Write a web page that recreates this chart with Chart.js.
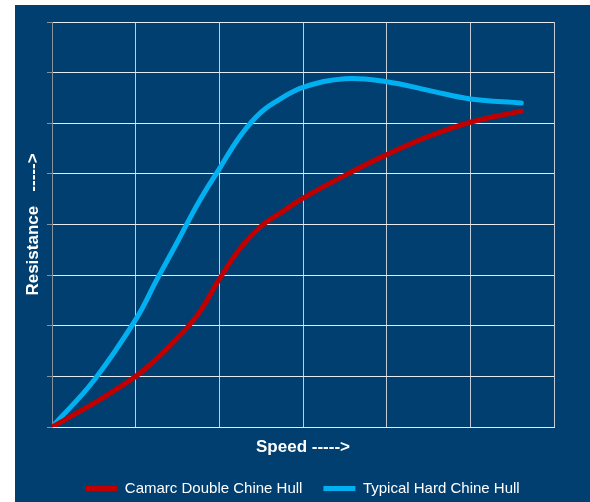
<!DOCTYPE html>
<html>
<head>
<meta charset="utf-8">
<script src="https://cdn.jsdelivr.net/npm/chart.js@4"></script>
<style>
    html, body { margin: 0; padding: 0; background: #ffffff; overflow: hidden; }
    #panel {
        position: absolute; left: 15px; top: 5px;
        width: 575px; height: 497px;
        background: #003f6f; overflow: hidden;
    }
    #hullChart { display: block; }
</style>
</head>
<body>
<div id="panel"><canvas id="hullChart" width="575" height="501"></canvas></div>
<script>
// Speed (x) and resistance (y) in grid units
const speed = [0, 0.5, 1, 1.25, 1.5, 1.75, 2, 2.25, 2.5, 2.75, 3, 3.5, 4, 4.5, 5, 5.61];
const camarcResistance = [0, 0.47, 1.0, 1.35, 1.76, 2.24, 2.92, 3.53, 3.97, 4.25, 4.52, 4.97, 5.38, 5.74, 6.02, 6.24];
const hardChineResistance = [0, 0.92, 2.12, 2.9, 3.66, 4.43, 5.1, 5.75, 6.22, 6.5, 6.71, 6.88, 6.82, 6.65, 6.48, 6.4];

const seriesNames = ['Camarc Double Chine Hull', 'Typical Hard Chine Hull'];
const seriesColors = ['#c00000', '#00b0f0'];

Chart.defaults.font.family = "'Liberation Sans', Arial, sans-serif";
Chart.defaults.color = '#ffffff';

// Pair speed with a resistance series for the linear scale
function toPoints(ys) {
    return speed.map((x, i) => ({ x: x, y: ys[i] }));
}

// Let the legend use the whole canvas width, not just up to the right padding
const wideLegend = {
    id: 'wideLegend',
    afterLayout(chart) {
        if (chart.legend) {
            chart.legend.left = 0;
            chart.legend.right = chart.width;
            chart.legend.width = chart.width;
        }
    }
};

const ctx = document.getElementById('hullChart').getContext('2d');

new Chart(ctx, {
    type: 'line',
    data: {
        datasets: [
            {
                label: seriesNames[0],
                data: toPoints(camarcResistance),
                borderColor: seriesColors[0],
                backgroundColor: seriesColors[0],
                borderWidth: 5,
                borderCapStyle: 'round',
                borderJoinStyle: 'round',
                pointRadius: 0,
                tension: 0.4
            },
            {
                label: seriesNames[1],
                data: toPoints(hardChineResistance),
                borderColor: seriesColors[1],
                backgroundColor: seriesColors[1],
                borderWidth: 5,
                borderCapStyle: 'round',
                borderJoinStyle: 'round',
                pointRadius: 0,
                tension: 0.4
            }
        ]
    },
    options: {
        responsive: false,
        animation: false,
        devicePixelRatio: 1,
        layout: {
            padding: { left: 0, right: 36, top: 17, bottom: 0 }
        },
        plugins: {
            tooltip: { enabled: false },
            legend: {
                position: 'bottom',
                labels: {
                    color: '#ffffff',
                    font: { size: 15 },
                    boxWidth: 32,
                    boxHeight: 5,
                    padding: 21,
                    generateLabels: (chart) => {
                        // plain coloured bar, no outline
                        const items = Chart.defaults.plugins.legend.labels.generateLabels(chart);
                        items.forEach(item => { item.lineWidth = 0; });
                        return items;
                    }
                }
            }
        },
        scales: {
            x: {
                type: 'linear',
                min: 0,
                max: 6,
                ticks: { display: false, stepSize: 1 },
                grid: {
                    color: (c) => c.tick && c.tick.value === 0 ? '#8a939c' : '#c3ccd6',
                    drawTicks: false
                },
                border: { color: '#e6ebf0' },
                title: {
                    display: true,
                    text: 'Speed ----->',
                    color: '#ffffff',
                    font: { size: 17, weight: 'bold' },
                    padding: { top: 4, bottom: 2 }
                },
                afterFit: (scale) => { scale.height = 33; }
            },
            y: {
                min: 0,
                max: 8,
                ticks: { display: false, stepSize: 1 },
                grid: {
                    color: '#e6ebf0',
                    tickColor: '#8a939c',
                    tickLength: 5
                },
                border: { color: '#8a939c' },
                title: {
                    display: true,
                    text: 'Resistance   ----->',
                    color: '#ffffff',
                    font: { size: 17, weight: 'bold' },
                    padding: { top: 8, bottom: 4 }
                },
                afterFit: (scale) => { scale.width = 37; }
            }
        }
    },
    plugins: [wideLegend]
});
</script>
</body>
</html>
